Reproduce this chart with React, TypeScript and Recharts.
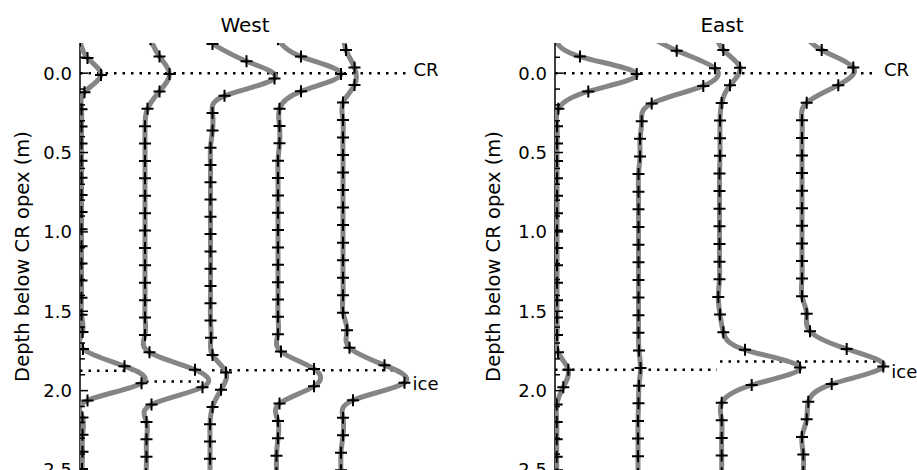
import React from "react";
import { ScatterChart, Scatter, XAxis, YAxis, ReferenceLine, ReferenceDot } from "recharts";

const FONT = "'DejaVu Sans', sans-serif";

// depth axis (m): ticks every 0.1, labels every 0.5
const depthTicks = [-0.1, 0, 0.1, 0.2, 0.3, 0.4, 0.5, 0.6, 0.7, 0.8, 0.9, 1.0, 1.1, 1.2, 1.3, 1.4, 1.5, 1.6, 1.7, 1.8, 1.9, 2.0, 2.1, 2.2, 2.3, 2.4, 2.5];
const majorTicks = [0, 0.5, 1.0, 1.5, 2.0, 2.5];

// West profile: trace offsets, depth of first sample, sample interval (m)
const westOffsets = [0, 65, 130, 198, 263];
const westStart = [-0.204, -0.214, -0.184, -0.2135, -0.256];
const westStep = [0.1079, 0.1096, 0.1089, 0.1093, 0.1103];
// amplitudes at each sample, relative to trace offset
const west1 = [0, 7.5, 21, 4.5, 1.5, 1.5, 1.5, 1.5, 1.5, 1.5, 1.5, 1.5, 1.5, 1.5, 1.5, 1.5, 1.5, 2.5, 3, 44.5, 61.5, 7.5, 2.5, 2.5, 2.5, 2];
const west2 = [5.5, 14.5, 24.5, 14.5, 2.5, 0, 0, 0, 0, 0, 0, 0, 0, 0, 0, 0, 0, 0, 4.5, 50, 57.5, 6.5, 1.5, 1.5, 1.5, 1];
const west3 = [2.5, 36.5, 64.5, 14.5, 2.5, 2.5, 0.5, 0.5, 0.5, 0.5, 0.5, 0.5, 0.5, 0.5, 0.5, 0.5, 0.5, 1, 2.5, 16, 11, 2.5, 0, 0, 0, 0];
const west4 = [0, 23, 63, 23, 1.5, 1.5, 1.5, 0, 0, 0, 0, 0, 0, 0, 0, 0, 0, 0, 3, 36, 36, 1.5, 0, 0, -1.5, -1.5];
const west5 = [0, 3, 11.5, 11.5, 0, 0, 0, 0, 0, 0, 0, 0, 0, 0, 0, 0, 0, 4, 6.5, 41.5, 61.5, 10, 0, 0, -2, -2];
const westCrEnd = 327.5;
const westIceDepth = [1.875, 1.943, 1.872];
const westIceFrom = [0, 66, 132];
const westIceTo = [60, 123, 320];

// East profile
const eastOffsets = [0, 83, 164, 247];
const eastStart = [-0.214, -0.253, -0.257, -0.257];
const eastStep = [0.1096, 0.1111, 0.1111, 0.1108];
const east1 = [0, 25, 81.7, 33.3, 3.3, 2, 2, 2, 2, 2, 2, 2, 2, 2, 2, 2, 2, 2, 3, 13.3, 8.3, 1.7, 1.7, 1.7, 1.7, 1.7];
const east2 = [6, 38.7, 77, 65.3, 13.7, 3.7, 2, 2, 0.5, 0.5, 0.5, 0.5, 0.5, 0.5, 0.5, 0.5, 0.5, 0.5, 1, 2.5, 1, 0.5, 0, 0, 0, 0];
const east3 = [-3, 4.3, 21, 11, 2.7, 1, 1, 1, 0.5, 0.5, 0.5, 0.5, 0.5, 0.5, 0.5, -0.7, 1, 4.3, 26, 81, 32.7, 2.7, 2.7, 2.7, 2.7, 2.7];
const east4 = [0, 19.7, 51.3, 36.3, 4.7, 0, 0, 0, 0, 0, 0, 0, 0, 0, 0, 0, 4.7, 8, 44.7, 81.3, 29.7, 6.3, 4.7, 0, 1.3, 1.3];
const eastCrEnd = 323;
const eastIceDepth = [1.869, 1.817];
const eastIceFrom = [0, 165];
const eastIceTo = [162, 322];

type Pt = { x: number; y: number };

function buildTrace(offset: number, start: number, step: number, amps: number[]): Pt[] {
  return amps.map((a, i) => ({ x: offset + a, y: start + i * step }));
}

const PlusMark = (props: any) => {
  const { cx, cy } = props;
  if (cx == null || cy == null) return null;
  return (
    <path
      d={`M${cx - 6},${cy}H${cx + 6}M${cx},${cy - 6}V${cy + 6}`}
      stroke="#000"
      strokeWidth={2}
      fill="none"
    />
  );
};

const DepthTick = (props: any) => {
  const { x, y, payload } = props;
  const v = payload.value;
  const major = majorTicks.includes(v);
  const ax = x + 8; // axis line (tickMargin 8)
  return (
    <g>
      <line x1={ax} x2={ax + (major ? 8 : 5)} y1={y} y2={y} stroke="#000" strokeWidth={1.5} />
      {major && (
        <text x={x} y={y} dy="0.36em" textAnchor="end" fontSize={18} fontFamily={FONT} fill="#000">
          {v.toFixed(1)}
        </text>
      )}
    </g>
  );
};

interface PanelProps {
  title: string;
  titleX: number;
  left: number;
  width: number;
  offsets: number[];
  starts: number[];
  steps: number[];
  traces: number[][];
  crEnd: number;
  iceDepth: number[];
  iceFrom: number[];
  iceTo: number[];
  labelDx: number;
  iceDy: number;
}

function Panel(p: PanelProps) {
  const series = p.traces.map((amps, i) => buildTrace(p.offsets[i], p.starts[i], p.steps[i], amps));
  const lastDeep = series[series.length - 1].filter(pt => pt.y > 1);
  const icePick = lastDeep.reduce((a, b) => (b.x > a.x ? b : a));
  const dotted = { stroke: "#000", strokeWidth: 2.5, strokeDasharray: "2.5 6" };

  return (
    <>
      <div
        style={{
          position: "absolute",
          left: p.titleX - 100,
          top: 15,
          width: 200,
          textAlign: "center",
          fontFamily: FONT,
          fontSize: 20,
          lineHeight: "20px",
          color: "#000",
        }}
      >
        {p.title}
      </div>
      <div style={{ position: "absolute", left: p.left, top: 0 }}>
        <ScatterChart width={p.width} height={470} margin={{ top: 43, right: p.width - 420, bottom: 0, left: 0 }}>
          <XAxis type="number" dataKey="x" domain={[0, 340]} allowDataOverflow hide />
          <YAxis
            type="number"
            dataKey="y"
            domain={[-0.19, 2.5]}
            reversed
            allowDataOverflow
            width={80}
            ticks={depthTicks}
            interval={0}
            tickSize={0}
            tickMargin={8}
            tickLine={false}
            axisLine={{ stroke: "#000", strokeWidth: 1.5 }}
            tick={DepthTick}
            label={{
              value: "Depth below CR opex (m)",
              angle: -90,
              position: "center",
              dx: p.labelDx,
              fontSize: 19.5,
              fontFamily: FONT,
              fill: "#000",
            }}
          />
          <ReferenceLine
            segment={[{ x: 0, y: 0 }, { x: p.crEnd, y: 0 }]}
            {...dotted}
            label={{ value: "CR", position: "right", offset: 6, dy: -4, fontSize: 18, fontFamily: FONT, fill: "#000" }}
          />
          {p.iceDepth.map((d, i) => (
            <ReferenceLine
              key={`ice-${i}`}
              segment={[{ x: p.iceFrom[i], y: d }, { x: p.iceTo[i], y: d }]}
              {...dotted}
            />
          ))}
          {series.map((pts, i) => (
            <Scatter
              key={`trace-${i}`}
              data={pts}
              line={{ stroke: "#858585", strokeWidth: 5 }}
              lineType="joint"
              lineJointType="natural"
              shape={PlusMark}
              isAnimationActive={false}
            />
          ))}
          <ReferenceDot
            x={icePick.x}
            y={icePick.y}
            r={0}
            fill="none"
            stroke="none"
            label={{ value: "ice", position: "right", offset: 8, dy: p.iceDy, fontSize: 18, fontFamily: FONT, fill: "#000" }}
          />
        </ScatterChart>
      </div>
    </>
  );
}

export default function App() {
  return (
    <div style={{ position: "absolute", left: 0, top: 0, width: 917, height: 470, background: "#fff", overflow: "hidden" }}>
      <Panel
        title="West"
        titleX={245}
        left={0}
        width={460}
        offsets={westOffsets}
        starts={westStart}
        steps={westStep}
        traces={[west1, west2, west3, west4, west5]}
        crEnd={westCrEnd}
        iceDepth={westIceDepth}
        iceFrom={westIceFrom}
        iceTo={westIceTo}
        labelDx={-17.5}
        iceDy={1}
      />
      <Panel
        title="East"
        titleX={722}
        left={475}
        width={442}
        offsets={eastOffsets}
        starts={eastStart}
        steps={eastStep}
        traces={[east1, east2, east3, east4]}
        crEnd={eastCrEnd}
        iceDepth={eastIceDepth}
        iceFrom={eastIceFrom}
        iceTo={eastIceTo}
        labelDx={-22}
        iceDy={5}
      />
    </div>
  );
}
